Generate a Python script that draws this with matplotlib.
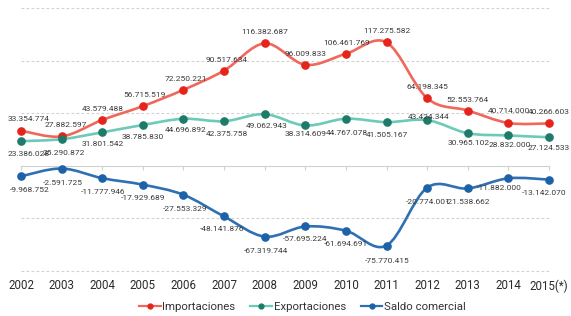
import numpy as np
import matplotlib
matplotlib.use('Agg')
import matplotlib.pyplot as plt
from matplotlib.path import Path
from matplotlib.patches import PathPatch
from matplotlib.lines import Line2D

# ── Datos ─────────────────────────────────────────────────────────────────────
anios = ['2002', '2003', '2004', '2005', '2006', '2007', '2008',
         '2009', '2010', '2011', '2012', '2013', '2014', '2015(*)']

importaciones = [33354774, 27882597, 43579488, 56715519, 72250221, 90517634, 116382687,
                 96009833, 106461769, 117275582, 64198345, 52553764, 40714000, 40266603]
exportaciones = [23386028, 25290872, 31801542, 38785830, 44696892, 42375758, 49062943,
                 38314609, 44767078, 41505167, 43424344, 30965102, 28832000, 27124533]
saldo = [-9968752, -2591725, -11777946, -17929689, -27553329, -48141876, -67319744,
         -57695224, -61694691, -75770415, -20774001, -21538662, -11882000, -13142070]

ROJO_L, ROJO_M = '#f0675b', '#e5241b'
VERDE_L, VERDE_M = '#6ccab8', '#1f7b69'
AZUL_L, AZUL_M = '#2f70b3', '#1d62a8'
TXT = '#3a3a3a'
FUENTE = ['Roboto', 'DejaVu Sans']


def fmt(v):
    s = f'{abs(v):,}'.replace(',', '.')
    return '-' + s if v < 0 else s


def curva(ax, x, y, color, lw):
    # curva suave tipo Catmull-Rom -> segmentos Bezier cúbicos
    pts = np.column_stack([np.asarray(x, float), np.asarray(y, float)])
    verts = [pts[0]]
    codes = [Path.MOVETO]
    n = len(pts)
    for i in range(n - 1):
        p0 = pts[i - 1] if i > 0 else pts[i]
        p1, p2 = pts[i], pts[i + 1]
        p3 = pts[i + 2] if i + 2 < n else pts[i + 1]
        verts += [p1 + (p2 - p0) / 6, p2 - (p3 - p1) / 6, p2]
        codes += [Path.CURVE4] * 3
    ax.add_patch(PathPatch(Path(verts, codes), fill=False, edgecolor=color,
                           lw=lw, capstyle='round', joinstyle='round', zorder=3))


# ── Figura ────────────────────────────────────────────────────────────────────
fig = plt.figure(figsize=(5.71, 3.16), dpi=100)
ax = fig.add_axes([21 / 571, 1 - 271 / 316, 528 / 571, 263 / 316])

x = np.arange(len(anios))
ax.set_xlim(0, len(anios) - 1)
ax.set_ylim(-100e6, 150e6)

for g in [150e6, 100e6, 50e6, -50e6, -100e6]:
    ax.axhline(g, color='#d2d2d2', lw=0.8, ls=(0, (2.5, 2)), zorder=1, clip_on=False)

eje0 = ax.secondary_xaxis(0.4)
eje0.set_xticks(x)
eje0.set_xticklabels([])
eje0.tick_params(length=3, color='#d0d0d0', width=0.8)
eje0.spines['bottom'].set_color('#d0d0d0')

series = [(importaciones, ROJO_L, ROJO_M, 'Importaciones'),
          (exportaciones, VERDE_L, VERDE_M, 'Exportaciones'),
          (saldo, AZUL_L, AZUL_M, 'Saldo comercial')]
for vals, cl, cm, nombre in series:
    curva(ax, x, vals, cl, 1.9)
    ax.plot(x, vals, 'o', ms=5.2, color=cm, zorder=4, clip_on=False)

# desplazamientos de las etiquetas en píxeles (dx, dy)
off_imp = [(8, 12), (4, 11), (1, 11), (2, 11), (2, 11), (3, 11), (0, 11),
           (0, 11), (1, 11), (0, 11), (0, 11), (0, 11), (1, 12), (0, 11)]
off_exp = [(8, -13), (2, -14), (1, -12), (0, -12), (2, -11), (3, -13), (2, -12),
           (0, -9), (1, -14), (0, -13), (1, 3), (1, -10), (1, -10), (0, -11)]
off_sal = [(9, -14), (1, -14), (1, -14), (0, -13), (2, -14), (-2, -13), (1, -14),
           (0, -13), (0, -13), (1, -15), (1, -14), (0, -14), (-9, -10), (-5, -13)]

for vals, offs in [(importaciones, off_imp), (exportaciones, off_exp), (saldo, off_sal)]:
    for xi, v, (dx, dy) in zip(x, vals, offs):
        ax.annotate(fmt(v), (xi, v), xytext=(dx * 0.72, dy * 0.72),
                    textcoords='offset points', ha='center', va='center',
                    fontsize=6, color=TXT, family=FUENTE, zorder=5)

ax.set_xticks(x)
ax.set_xticklabels(anios, family=FUENTE, fontsize=8.3, color='#2a2a2a')
ax.tick_params(axis='x', length=0, pad=6)
ax.set_yticks([])
for s in ax.spines.values():
    s.set_visible(False)

handles = [Line2D([], [], color=cl, marker='o', ms=3.5, mfc=cm, mec=cm, lw=1.6)
           for _, cl, cm, _ in series]
fig.legend(handles, [s[3] for s in series], loc='center', ncol=3,
           bbox_to_anchor=(302.5 / 571, 1 - 307 / 316), frameon=False,
           handlelength=1.9, handletextpad=0.15, columnspacing=1.3,
           prop={'family': FUENTE, 'size': 8.2}, labelcolor='#333333')

fig.savefig('out.png', dpi=100)
